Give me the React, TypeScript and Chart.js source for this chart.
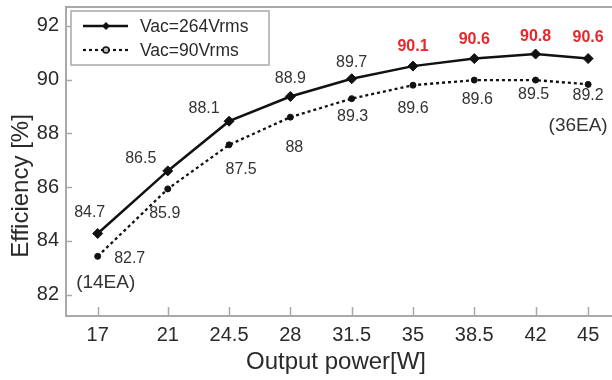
import React, { useEffect, useRef } from "react";
import { Chart, registerables } from "chart.js";

Chart.register(...registerables);

// ---- data ----
const powers = [17, 21, 24.5, 28, 31.5, 35, 38.5, 42, 45];
const eff264 = [84.27, 86.6, 88.45, 89.37, 90.03, 90.5, 90.78, 90.95, 90.78];
const eff90 = [83.42, 85.93, 87.57, 88.6, 89.29, 89.79, 89.98, 89.98, 89.82];
const labels264 = ["84.7", "86.5", "88.1", "88.9", "89.7", "90.1", "90.6", "90.8", "90.6"];
const labels90 = ["82.7", "85.9", "87.5", "88", "89.3", "89.6", "89.6", "89.5", "89.2"];
const highlight264 = [false, false, false, false, false, true, true, true, true];
const yTicks = [82, 84, 86, 88, 90, 92];
const seriesNames = ["Vac=264Vrms", "Vac=90Vrms"];
const notes = ["(14EA)", "(36EA)"];

// ---- styles ----
const FONT = '"Liberation Sans", Arial, Helvetica, sans-serif';
const AXIS_COLOR = "#a9a9a9";
const TEXT_COLOR = "#2a2a2a";
const LABEL_COLOR = "#333333";
const RED = "#e8262b";
const LINE_COLOR = "#111111";

// label offsets relative to points (px)
const OFF264: [number, number][] = [
  [-8, -21], [-27, -12], [-25, -13], [0, -18], [0, -16], [0, -20], [0, -19], [0, -17], [0, -21],
];
const OFF90: [number, number][] = [
  [32, 2], [-3, 25], [12, 25], [4, 30], [1, 18], [0, 23], [3, 20], [-2, 15], [0, 11],
];

const overlayPlugin = {
  id: "overlay",
  afterDatasetsDraw(chart: any) {
    const { ctx, chartArea: a, scales } = chart;
    const xs = scales.x;
    const ys = scales.y;
    ctx.save();

    // top frame line and bottom axis extension to the canvas edge
    ctx.strokeStyle = AXIS_COLOR;
    ctx.lineWidth = 2;
    ctx.beginPath();
    ctx.moveTo(a.left - 1, a.top);
    ctx.lineTo(chart.width, a.top);
    ctx.moveTo(a.right - 1, a.bottom);
    ctx.lineTo(chart.width, a.bottom);
    ctx.stroke();

    // inward tick marks
    ctx.lineWidth = 1.5;
    xs.ticks.forEach((t: any) => {
      const x = Math.round(xs.getPixelForValue(t.value)) + 0.5;
      ctx.beginPath();
      ctx.moveTo(x, a.bottom);
      ctx.lineTo(x, a.bottom - 9);
      ctx.stroke();
    });
    ys.ticks.forEach((t: any) => {
      const y = Math.round(ys.getPixelForValue(t.value)) + 0.5;
      ctx.beginPath();
      ctx.moveTo(a.left, y);
      ctx.lineTo(a.left + 6, y);
      ctx.stroke();
    });

    // data labels
    ctx.textAlign = "center";
    ctx.textBaseline = "middle";
    const m0 = chart.getDatasetMeta(0);
    const m1 = chart.getDatasetMeta(1);
    m0.data.forEach((pt: any, i: number) => {
      const red = highlight264[i];
      ctx.font = `${red ? "bold " : ""}16px ${FONT}`;
      ctx.fillStyle = red ? RED : LABEL_COLOR;
      ctx.fillText(labels264[i], pt.x + OFF264[i][0], pt.y + OFF264[i][1]);
    });
    ctx.font = `16px ${FONT}`;
    ctx.fillStyle = LABEL_COLOR;
    m1.data.forEach((pt: any, i: number) => {
      ctx.fillText(labels90[i], pt.x + OFF90[i][0], pt.y + OFF90[i][1]);
    });

    // notes
    ctx.font = `19px ${FONT}`;
    const p0 = m1.data[0];
    const pN = m1.data[m1.data.length - 1];
    ctx.fillText(notes[0], p0.x + 8, p0.y + 26);
    ctx.fillText(notes[1], pN.x - 10, pN.y + 41);

    // legend
    const lx = 71, ly = 11, lw = 198, lh = 54;
    ctx.fillStyle = "#ffffff";
    ctx.fillRect(lx, ly, lw, lh);
    ctx.strokeStyle = AXIS_COLOR;
    ctx.lineWidth = 1.5;
    ctx.strokeRect(lx, ly, lw, lh);

    // row 1
    ctx.strokeStyle = LINE_COLOR;
    ctx.lineWidth = 2.5;
    ctx.setLineDash([]);
    ctx.beginPath();
    ctx.moveTo(83, 26);
    ctx.lineTo(128, 26);
    ctx.stroke();
    ctx.fillStyle = LINE_COLOR;
    ctx.beginPath();
    ctx.moveTo(106 - 4, 26);
    ctx.lineTo(106, 26 - 4);
    ctx.lineTo(106 + 4, 26);
    ctx.lineTo(106, 26 + 4);
    ctx.closePath();
    ctx.fill();

    // row 2
    ctx.lineWidth = 2.2;
    ctx.setLineDash([3, 3]);
    ctx.beginPath();
    ctx.moveTo(83, 50);
    ctx.lineTo(128, 50);
    ctx.stroke();
    ctx.setLineDash([]);
    ctx.fillStyle = "#bdbdbd";
    ctx.lineWidth = 1.5;
    ctx.beginPath();
    ctx.arc(106, 50, 3, 0, Math.PI * 2);
    ctx.fill();
    ctx.stroke();

    ctx.fillStyle = TEXT_COLOR;
    ctx.font = `17.5px ${FONT}`;
    ctx.textAlign = "left";
    ctx.fillText(seriesNames[0], 140, 27);
    ctx.fillText(seriesNames[1], 140, 51);

    // y title
    ctx.save();
    ctx.translate(21, 186);
    ctx.rotate(-Math.PI / 2);
    ctx.textAlign = "center";
    ctx.font = `24px ${FONT}`;
    ctx.fillStyle = TEXT_COLOR;
    ctx.fillText("Efficiency [%]", 0, 0);
    ctx.restore();

    ctx.restore();
  },
};

export default function App() {
  const ref = useRef<HTMLCanvasElement | null>(null);

  useEffect(() => {
    if (!ref.current) return;
    Chart.defaults.font.family = FONT;
    const chart = new Chart(ref.current, {
      type: "line",
      data: {
        datasets: [
          {
            label: seriesNames[0],
            data: powers.map((p, i) => ({ x: p, y: eff264[i] })),
            borderColor: LINE_COLOR,
            backgroundColor: LINE_COLOR,
            borderWidth: 2.5,
            pointStyle: "rectRot",
            pointRadius: 5,
            pointBorderWidth: 1,
            pointBackgroundColor: LINE_COLOR,
            pointBorderColor: LINE_COLOR,
            tension: 0,
          },
          {
            label: seriesNames[1],
            data: powers.map((p, i) => ({ x: p, y: eff90[i] })),
            borderColor: LINE_COLOR,
            backgroundColor: LINE_COLOR,
            borderWidth: 2.3,
            borderDash: [3, 3],
            pointStyle: "circle",
            pointRadius: 3,
            pointBorderWidth: 1,
            pointBackgroundColor: LINE_COLOR,
            pointBorderColor: LINE_COLOR,
            tension: 0,
          },
        ],
      },
      options: {
        animation: false,
        responsive: false,
        maintainAspectRatio: false,
        layout: { padding: { top: 7, right: 0, left: 0, bottom: 0 } },
        plugins: {
          legend: { display: false },
          tooltip: { enabled: false },
        },
        scales: {
          x: {
            type: "linear",
            min: 15.19,
            max: 46.02,
            afterBuildTicks: (s: any) => {
              s.ticks = powers.map((v) => ({ value: v }));
            },
            grid: { display: false, drawTicks: false },
            border: { display: true, color: AXIS_COLOR, width: 2 },
            ticks: {
              font: { family: FONT, size: 20 },
              color: TEXT_COLOR,
              padding: 7,
              maxRotation: 0,
              autoSkip: false,
              callback: (v: any) => String(v),
            },
            title: {
              display: true,
              text: "Output power[W]",
              font: { family: FONT, size: 24 },
              color: TEXT_COLOR,
              padding: { top: 0, bottom: 3 },
            },
            afterFit: (s: any) => {
              s.height = 64;
              s.paddingLeft = 0;
              s.paddingRight = 0;
            },
          },
          y: {
            type: "linear",
            min: 81.2,
            max: 92.7,
            afterBuildTicks: (s: any) => {
              s.ticks = yTicks.map((v) => ({ value: v }));
            },
            grid: { display: false, drawTicks: false },
            border: { display: true, color: AXIS_COLOR, width: 2 },
            ticks: {
              font: { family: FONT, size: 20 },
              color: TEXT_COLOR,
              padding: 7,
            },
            afterFit: (s: any) => {
              s.width = 66;
              s.paddingTop = 0;
              s.paddingBottom = 0;
            },
          },
        },
      } as any,
      plugins: [overlayPlugin],
    });
    return () => chart.destroy();
  }, []);

  return (
    <div style={{ position: "fixed", left: 0, top: 0, width: 612, height: 380, background: "#fff" }}>
      <canvas ref={ref} width={612} height={380} style={{ width: 612, height: 380 }} />
    </div>
  );
}
